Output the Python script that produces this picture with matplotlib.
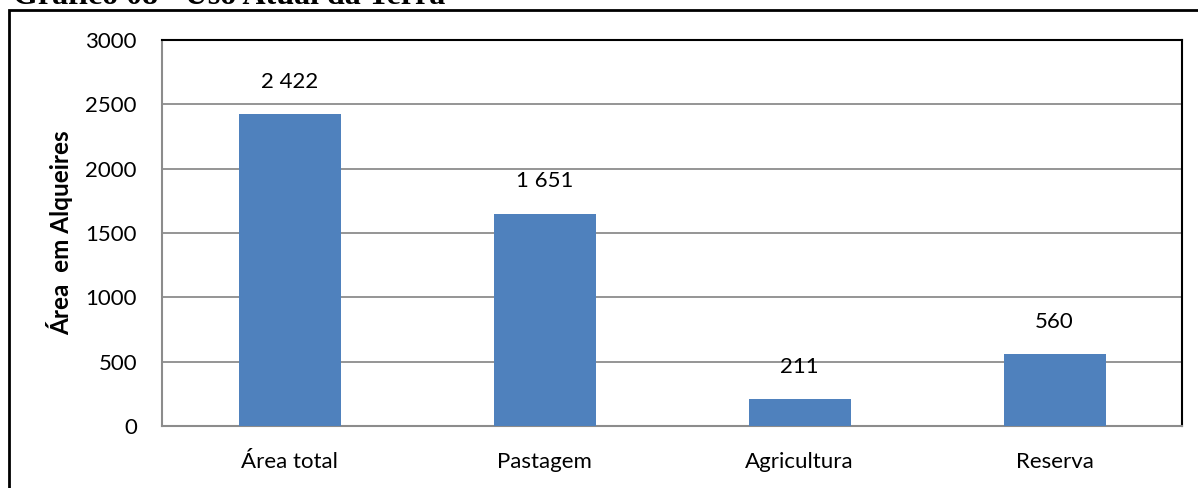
import matplotlib
matplotlib.use("Agg")
import matplotlib.pyplot as plt
from matplotlib.patches import Rectangle

categories = ["Área total", "Pastagem", "Agricultura", "Reserva"]
values = [2422, 1651, 211, 560]
value_labels = ["2 422", "1 651", "211", "560"]
yticks = [0, 500, 1000, 1500, 2000, 2500, 3000]

W, H = 1198, 488
fig = plt.figure(figsize=(W / 100, H / 100), dpi=100)
plt.rcParams["font.family"] = ["Lato", "DejaVu Sans"]

# plot area in pixel units
left, right, top, bottom = 162, 1182, 40, 426
ax = fig.add_axes([left / W, 1 - bottom / H, (right - left) / W, (bottom - top) / H])

x = range(len(categories))
ax.bar(x, values, width=0.4, color="#4F81BD", zorder=3)
ax.set_xlim(-0.5, len(categories) - 0.5)
ax.set_ylim(0, 3000)
ax.set_yticks(yticks)
ax.set_yticklabels([str(t) for t in yticks], fontsize=16)
ax.set_xticks(list(x))
ax.set_xticklabels(categories, fontsize=16)
ax.tick_params(length=0)
ax.tick_params(axis="y", pad=18)
ax.tick_params(axis="x", pad=19)
ax.yaxis.grid(True, color="#8C8C8C", linewidth=1.3, zorder=0)

for side in ("top", "right"):
    ax.spines[side].set_color("black")
    ax.spines[side].set_linewidth(1.5)
for side in ("left", "bottom"):
    ax.spines[side].set_color("#8C8C8C")
    ax.spines[side].set_linewidth(1.5)

for xi, v, lab in zip(x, values, value_labels):
    ax.annotate(lab, (xi, v), xytext=(0, 16), textcoords="offset points",
                ha="center", va="bottom", fontsize=16)

ax.set_ylabel("Área  em Alqueires", fontsize=17.5, fontweight="bold", labelpad=9)

# outer frame around the chart
fig.add_artist(Rectangle((9 / W, -0.1), 1.2, 1 - 10 / H + 0.1, transform=fig.transFigure,
                         fill=False, edgecolor="black", linewidth=2))

fig.text(13 / W, 1 - 4 / H, "Gráfico 08 - Uso Atual da Terra", family="Liberation Serif",
         fontweight="bold", fontsize=23, va="baseline", ha="left")

fig.savefig("out.png", dpi=100)
